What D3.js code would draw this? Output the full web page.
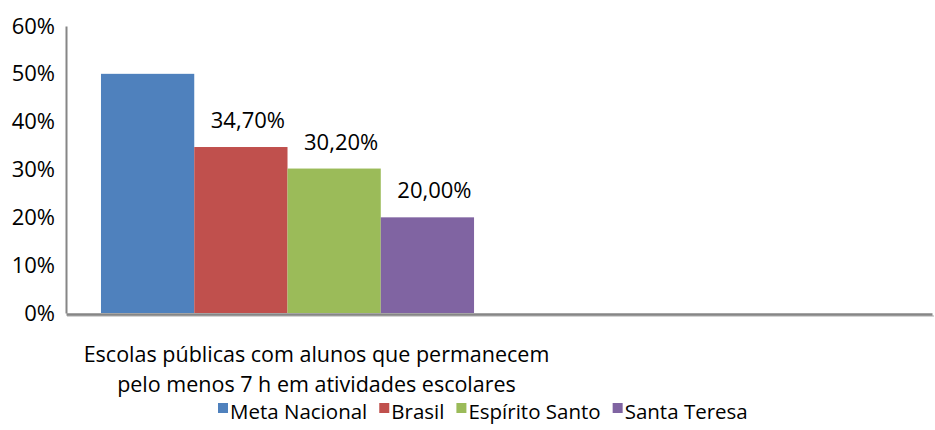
<!DOCTYPE html>
<html>
<head>
<meta charset="utf-8">
<script src="https://cdn.jsdelivr.net/npm/d3@7"></script>
<style>
  body { margin: 0; background: #fff; }
  svg { font-family: "Open Sans", sans-serif; }
</style>
</head>
<body>
<svg id="chart" width="935" height="430"></svg>
<script>
// data
var categories = ["Escolas públicas com alunos que permanecem pelo menos 7 h em atividades escolares", ""];
var categoryLines = ["Escolas públicas com alunos que permanecem", "pelo menos 7 h em atividades escolares"];
var series = ["Meta Nacional", "Brasil", "Espírito Santo", "Santa Teresa"];
var values = [0.50, 0.347, 0.302, 0.20];
var showLabel = [false, true, true, true];
var colors = ["#4F81BD", "#C0504D", "#9BBB59", "#8064A2"];
var yTicks = [0, 0.1, 0.2, 0.3, 0.4, 0.5, 0.6];

var svg = d3.select("#chart");

var plotLeft = 66, plotRight = 932, plotTop = 26, plotBottom = 313;

var x0 = d3.scaleBand()
  .domain(categories)
  .range([plotLeft, plotRight])
  .paddingInner(0.118)
  .paddingOuter(0.0827);

var x1 = d3.scaleBand()
  .domain(series)
  .range([0, x0.bandwidth()]);

var y = d3.scaleLinear()
  .domain([0, 0.6])
  .range([plotBottom, plotTop]);

var pct = d3.format(".0%");
var comma = function(v){ return (v*100).toFixed(2).replace(".", ",") + "%"; };

var rows = series.map(function(s, i){
  return { name: s, value: values[i], color: colors[i], label: showLabel[i] };
});

// bars
var g = svg.append("g").attr("transform", "translate(" + x0(categories[0]) + ",0)");
g.selectAll("rect")
  .data(rows)
  .enter().append("rect")
  .attr("x", function(d){ return x1(d.name); })
  .attr("y", function(d){ return y(d.value); })
  .attr("width", x1.bandwidth())
  .attr("height", function(d){ return y(0) - y(d.value); })
  .attr("fill", function(d){ return d.color; });

// value labels
g.selectAll("text.val")
  .data(rows.filter(function(d){ return d.label; }))
  .enter().append("text")
  .attr("class", "val")
  .attr("x", function(d){ return x1(d.name) + x1.bandwidth()/2 + 7; })
  .attr("y", function(d){ return y(d.value) - 19; })
  .attr("text-anchor", "middle")
  .attr("font-size", 22)
  .attr("fill", "#000")
  .text(function(d){ return comma(d.value); });

// y axis
var yAxis = d3.axisLeft(y).tickValues(yTicks).tickFormat(pct).tickSize(0).tickPadding(11);
var ya = svg.append("g").attr("transform", "translate(" + plotLeft + ",0)").call(yAxis);
ya.select(".domain").attr("stroke", "#868686").attr("stroke-width", 2);
ya.selectAll("text").attr("font-size", 22).attr("font-family", "Open Sans").attr("fill", "#000");

// x axis (shadow then line)
svg.append("line")
  .attr("x1", plotLeft + 1).attr("x2", plotRight + 2)
  .attr("y1", y(0) + 3).attr("y2", y(0) + 3)
  .attr("stroke", "#d4d4d4").attr("stroke-width", 2);
var xAxis = d3.axisBottom(x0).tickSize(0).tickFormat("");
var xa = svg.append("g").attr("transform", "translate(0," + (y(0) + 1) + ")").call(xAxis);
xa.select(".domain").attr("stroke", "#868686").attr("stroke-width", 2.5);

// category label
var cx = x0(categories[0]) + x0.bandwidth()/2 + 29;
svg.append("text")
  .attr("x", cx)
  .attr("y", 362)
  .attr("text-anchor", "middle")
  .attr("font-size", 21.5)
  .selectAll("tspan")
  .data(categoryLines)
  .enter().append("tspan")
  .attr("x", cx)
  .attr("dy", function(d, i){ return i === 0 ? 0 : 30; })
  .text(function(d){ return d; });

// legend
var legend = svg.append("g").attr("transform", "translate(218,419)");
var lx = 0;
series.forEach(function(s, i){
  legend.append("rect")
    .attr("x", lx).attr("y", -16)
    .attr("width", 10).attr("height", 10)
    .attr("fill", colors[i]);
  var t = legend.append("text")
    .attr("x", lx + 12)
    .attr("font-size", 20.5)
    .text(s);
  lx += 12 + t.node().getComputedTextLength() + 12;
});
</script>
</body>
</html>
